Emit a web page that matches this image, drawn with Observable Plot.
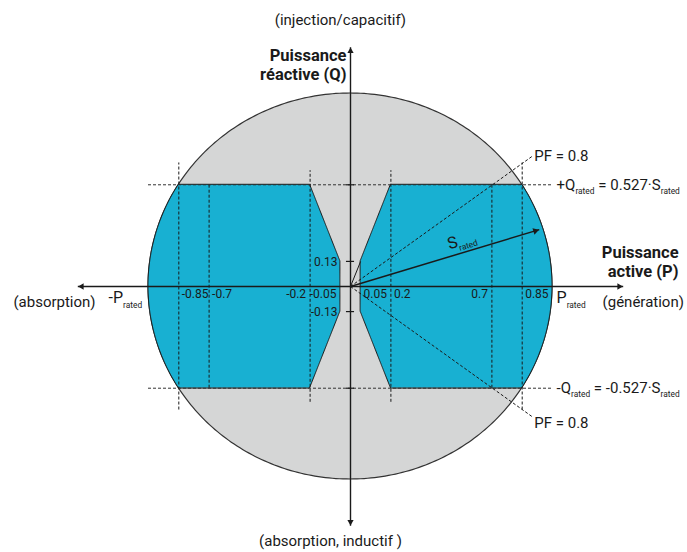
<!DOCTYPE html>
<html>
<head>
<meta charset="utf-8">
<script src="https://cdn.jsdelivr.net/npm/d3@7"></script>
<script src="https://cdn.jsdelivr.net/npm/@observablehq/plot@0.6"></script>
<style>
  html, body { margin: 0; padding: 0; background: #fff; }
  #chart svg { display: block; }
</style>
</head>
<body>
<div id="chart"></div>
<script>
// ---- data (per-unit of S_rated) ----
const pTickValues = [-0.85, -0.7, -0.2, -0.05, 0.05, 0.2, 0.7, 0.85];
const pTickLabels = ["-0.85", "-0.7", "-0.2", "-0.05", "0.05", "0.2", "0.7", "0.85"];
const pTickSide   = ["start", "start", "end", "end", "start", "start", "end", "start"];
const qTickValues = [0.13, -0.13];
const qTickLabels = ["0.13", "-0.13"];
const qRated = 0.527;          // ±Q_rated = ±0.527·S_rated
const qFull = 0.13;            // full Q band limit near P = 0
const pMin = 0.05;             // minimum |P|
const pKnee = 0.2;             // |P| where full ±Q_rated becomes available
const pf = 0.8;                // power factor lines
const sRatedAngle = 17.5;      // direction of the S_rated arrow (deg)
const sRatedLength = 0.98;

const BLUE = "#18b0d2", GREY = "#d5d6d6", INK = "#1a1a1a";

// ---- derived geometry ----
const circle = d3.range(0, 181, 1).map(a => {
  const t = a * Math.PI / 180;
  return {x: Math.cos(t), y1: -Math.sin(t), y2: Math.sin(t)};
});
const minP = y => Math.abs(y) <= qFull ? pMin
  : pMin + (Math.abs(y) - qFull) / (qRated - qFull) * (pKnee - pMin);
const ys = Array.from(new Set([...d3.range(-qRated, qRated, 0.005), -qFull, qFull, qRated]))
  .sort((a, b) => a - b);
const rightBand = ys.map(y => ({y, x1: minP(y), x2: Math.sqrt(1 - y * y)}));
const leftBand  = ys.map(y => ({y, x1: -Math.sqrt(1 - y * y), x2: -minP(y)}));
const pfSlope = Math.tan(Math.acos(pf));
const sEnd = {x: sRatedLength * Math.cos(sRatedAngle * Math.PI / 180),
              y: sRatedLength * Math.sin(sRatedAngle * Math.PI / 180)};
const ticks = pTickValues.map((v, i) => ({v, label: pTickLabels[i], side: pTickSide[i]}));

const AX = 1.35, AY = 1.24;
const dash = "3,2";
const FS = 15;

const plot = Plot.plot({
  width: 687, height: 552,
  margin: 0,
  style: {fontFamily: "Roboto, 'Noto Sans', sans-serif", background: "#fff", color: INK},
  x: {domain: [-1, 1], range: [148, 552], axis: null},
  y: {domain: [-1, 1], range: [479, 93], axis: null},
  marks: [
    // operating circle |S| <= S_rated
    Plot.areaY(circle, {x: "x", y1: "y1", y2: "y2", fill: GREY, stroke: "#333", strokeWidth: 1.2}),
    // allowed operating zones
    Plot.areaX(rightBand, {y: "y", x1: "x1", x2: "x2", fill: BLUE, stroke: INK, strokeWidth: 1}),
    Plot.areaX(leftBand,  {y: "y", x1: "x1", x2: "x2", fill: BLUE, stroke: INK, strokeWidth: 1}),
    // Q_rated limits
    Plot.ruleY([qRated, -qRated], {x1: -1, x2: 1, stroke: "#333", strokeWidth: 1, strokeDasharray: dash}),
    // vertical P guides
    Plot.ruleX([-0.85, 0.85], {y1: -0.64, y2: 0.64, stroke: INK, strokeWidth: 1, strokeDasharray: dash}),
    Plot.ruleX([-0.7, 0.7], {y1: -qRated, y2: qRated, stroke: INK, strokeWidth: 1, strokeDasharray: dash}),
    Plot.ruleX([-pKnee, pKnee], {y1: -0.6, y2: 0.6, stroke: INK, strokeWidth: 1, strokeDasharray: dash}),
    // PF = 0.8 lines
    Plot.link([1, -1], {x1: 0, y1: 0, x2: 0.9, y2: d => d * 0.9 * pfSlope, stroke: INK, strokeWidth: 1, strokeDasharray: dash}),
    // line to (0.05, 0.13)
    Plot.link([0], {x1: 0, y1: 0, x2: pMin, y2: qFull, stroke: INK, strokeWidth: 1}),
    // axes
    Plot.link([0], {x1: -AX, y1: 0, x2: AX, y2: 0, stroke: INK, strokeWidth: 1.4}),
    Plot.link([0], {x1: 0, y1: -AY, x2: 0, y2: AY, stroke: INK, strokeWidth: 1.4}),
    Plot.dot([0], {x: AX, y: 0, dx: -4, symbol: "triangle2", r: 3, rotate: 90, fill: INK, stroke: null}),
    Plot.dot([0], {x: -AX, y: 0, dx: 4, symbol: "triangle2", r: 3, rotate: -90, fill: INK, stroke: null}),
    Plot.dot([0], {x: 0, y: AY, dy: 4, symbol: "triangle2", r: 3, rotate: 0, fill: INK, stroke: null}),
    Plot.dot([0], {x: 0, y: -AY, dy: -4, symbol: "triangle2", r: 3, rotate: 180, fill: INK, stroke: null}),
    // Q axis small ticks
    Plot.ruleY([...qTickValues, qRated, -qRated], {x1: -0.02, x2: 0.02, stroke: INK, strokeWidth: 1.2}),
    // S_rated arrow
    Plot.link([0], {x1: 0, y1: 0, x2: sEnd.x, y2: sEnd.y, stroke: INK, strokeWidth: 1.5}),
    Plot.dot([0], {x: sEnd.x, y: sEnd.y, dx: -4, dy: 1.3, symbol: "triangle2", r: 3.2, rotate: 90 - sRatedAngle, fill: INK, stroke: null}),
    // P tick labels
    Plot.text(ticks.filter(d => d.side === "start"), {x: "v", y: 0, text: "label", textAnchor: "start", dx: 3, dy: 8, fontSize: 12, fill: INK}),
    Plot.text(ticks.filter(d => d.side === "end"), {x: "v", y: 0, text: "label", textAnchor: "end", dx: -4, dy: 8, fontSize: 12, fill: INK}),
    // Q tick labels
    Plot.text(qTickValues, {x: 0, y: d => d, text: (d, i) => qTickLabels[i], textAnchor: "end", dx: -13, dy: 1, fontSize: 12, fill: INK}),
    // axis titles
    Plot.text(["Puissance\nréactive (Q)"], {x: 0, y: 1.15, dx: -4, textAnchor: "end", lineAnchor: "middle", fontSize: 16.5, fontWeight: "bold", lineHeight: 1.15, fill: INK}),
    Plot.text(["Puissance\nactive (P)"], {x: 1.624, y: 0.13, textAnchor: "end", lineAnchor: "middle", fontSize: 16.5, fontWeight: "bold", lineHeight: 1.15, fill: INK}),
    Plot.text(["(injection/capacitif)"], {x: -0.05, y: 1.378, textAnchor: "middle", fontSize: FS, fill: INK}),
    Plot.text(["(absorption, inductif )"], {x: -0.099, y: -1.322, textAnchor: "middle", fontSize: FS, fill: INK}),
    Plot.text(["(génération)"], {x: 1.248, y: -0.083, textAnchor: "start", fontSize: FS, fill: INK}),
    Plot.text(["(absorption)"], {x: -1.262, y: -0.083, textAnchor: "end", fontSize: FS, fill: INK}),
    Plot.text(["P_{rated}"], {x: 1.02, y: -0.06, textAnchor: "start", fontSize: 16, fill: INK}),
    Plot.text(["-P_{rated}"], {x: -1.198, y: -0.06, textAnchor: "start", fontSize: 16, fill: INK}),
    // limit annotations
    Plot.text(["+Q_{rated} = 0.527·S_{rated}"], {x: 1.02, y: qRated, textAnchor: "start", fontSize: FS, fill: INK}),
    Plot.text(["-Q_{rated} = -0.527·S_{rated}"], {x: 1.02, y: -qRated, textAnchor: "start", fontSize: FS, fill: INK}),
    Plot.text([1], {x: 0.9, y: d => d * 0.9 * pfSlope, text: () => "PF = " + pf, textAnchor: "start", dx: 2, dy: 0, fontSize: FS, fill: INK}),
    Plot.text([-1], {x: 0.9, y: d => d * 0.9 * pfSlope, text: () => "PF = " + pf, textAnchor: "start", dx: 2, dy: 6, fontSize: FS, fill: INK}),
    Plot.text(["S_{rated}"], {x: 0.55, y: 0.24, textAnchor: "middle", rotate: -sRatedAngle, fontSize: 16.5, fill: INK})
  ]
});

// turn "X_{sub}" into real subscripts
d3.select(plot).selectAll("text").each(function () {
  const el = this;
  const txt = el.textContent;
  if (!txt.includes("_{")) return;
  const fs = parseFloat(getComputedStyle(el).fontSize) || 14;
  const parts = txt.split(/(_\{[^}]*\})/).filter(s => s.length);
  while (el.firstChild) el.removeChild(el.firstChild);
  const sel = d3.select(el);
  let lowered = false;
  const shift = fs * 0.32;
  parts.forEach(p => {
    if (p.startsWith("_{")) {
      sel.append("tspan").attr("dy", lowered ? 0 : shift).style("font-size", (fs * 0.6) + "px").text(p.slice(2, -1));
      lowered = true;
    } else {
      sel.append("tspan").attr("dy", lowered ? -shift : 0).text(p);
      lowered = false;
    }
  });
});

document.getElementById("chart").appendChild(plot);
</script>
</body>
</html>
